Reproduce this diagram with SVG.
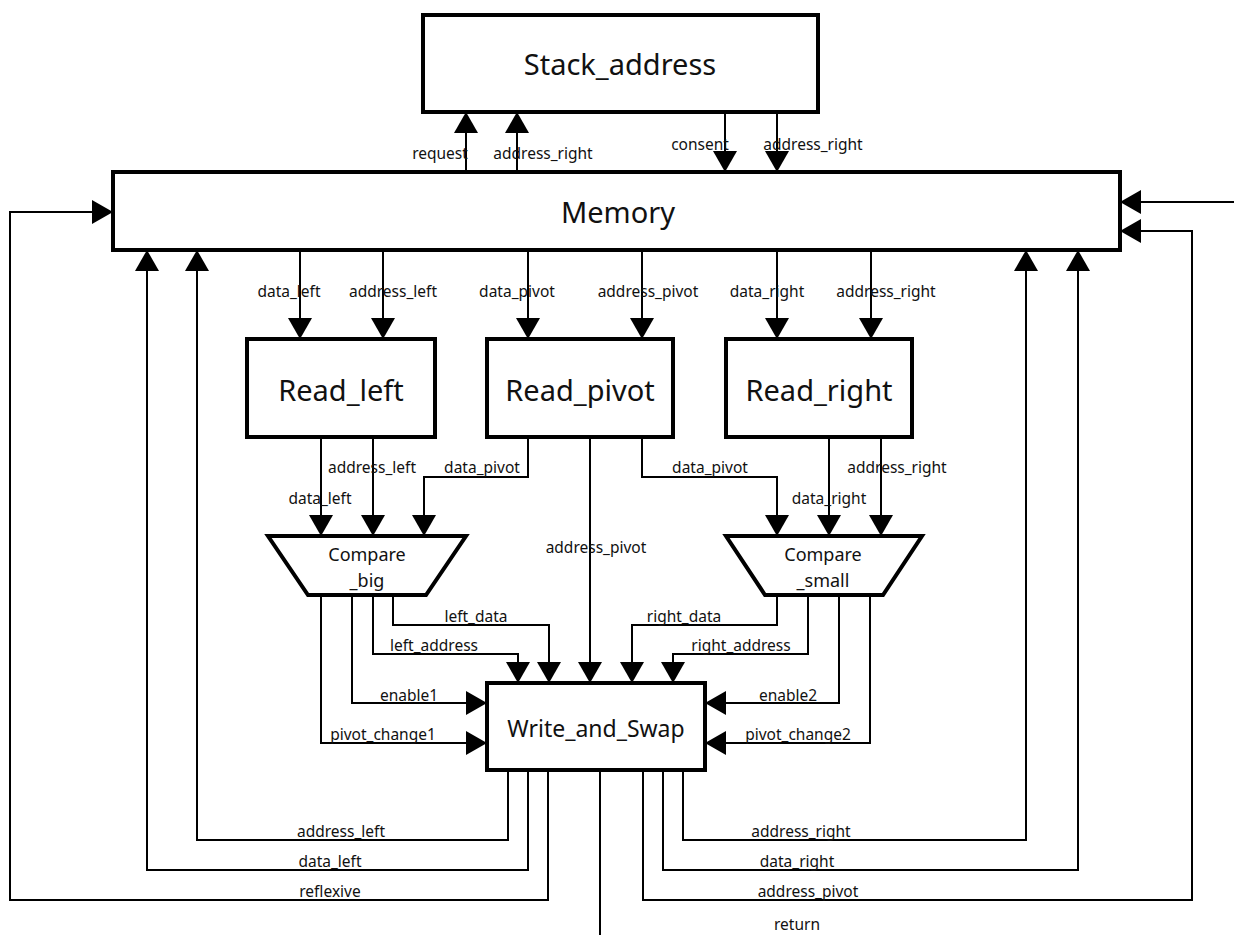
<svg xmlns="http://www.w3.org/2000/svg" width="1234" height="935" viewBox="0 0 1234 935">
  <style>
    .box { fill: #ffffff; stroke: #000000; stroke-width: 4; stroke-linejoin: miter; }
    .title { font-family: "Noto Sans", "Open Sans", sans-serif; fill: #111111; text-anchor: middle; }
    .wire { fill: none; stroke: #000000; stroke-width: 2; }
    .arr { marker-end: url(#head); }
    .lbl { font-family: "Noto Sans", "Open Sans", sans-serif; font-size: 15.5px; fill: #111111; text-anchor: middle; }
  </style>
  <defs>
    <marker id="head" markerUnits="userSpaceOnUse" markerWidth="22" markerHeight="24" refX="21" refY="12" orient="auto">
      <path d="M0,0 L21,12 L0,24 Z" fill="#000000"/>
    </marker>
  </defs>
  <rect width="1234" height="935" fill="#ffffff"/>

  <!-- connectors -->
  <g id="connectors">
    <!-- Memory <-> Stack_address -->
    <path class="wire arr" d="M466,172 V112"/>
    <path class="wire arr" d="M517,172 V112"/>
    <path class="wire arr" d="M725,112 V172"/>
    <path class="wire arr" d="M777,112 V172"/>
    <!-- Memory -> readers -->
    <path class="wire arr" d="M300,250 V339"/>
    <path class="wire arr" d="M383,250 V339"/>
    <path class="wire arr" d="M528,250 V339"/>
    <path class="wire arr" d="M642,250 V339"/>
    <path class="wire arr" d="M777,250 V339"/>
    <path class="wire arr" d="M871,250 V339"/>
    <!-- readers -> comparators -->
    <path class="wire arr" d="M321,437 V536"/>
    <path class="wire arr" d="M373,437 V536"/>
    <path class="wire arr" d="M528,437 V477 H424 V536"/>
    <path class="wire arr" d="M590,437 V683"/>
    <path class="wire arr" d="M642,437 V477 H777 V536"/>
    <path class="wire arr" d="M829,437 V536"/>
    <path class="wire arr" d="M881,437 V536"/>
    <!-- Compare_big -> Write_and_Swap -->
    <path class="wire arr" d="M321,595 V743 H487"/>
    <path class="wire arr" d="M352,595 V703 H487"/>
    <path class="wire arr" d="M373,595 V654 H518 V683"/>
    <path class="wire arr" d="M393,595 V625 H549 V683"/>
    <!-- Compare_small -> Write_and_Swap -->
    <path class="wire arr" d="M777,595 V625 H632 V683"/>
    <path class="wire arr" d="M808,595 V654 H673 V683"/>
    <path class="wire arr" d="M839,595 V703 H705"/>
    <path class="wire arr" d="M870,595 V743 H705"/>
    <!-- Write_and_Swap -> Memory feedback -->
    <path class="wire arr" d="M508,770 V840 H197 V250"/>
    <path class="wire arr" d="M528,770 V870 H147 V250"/>
    <path class="wire arr" d="M548,770 V900 H10 V212 H113"/>
    <path class="wire" d="M600,770 V935"/>
    <path class="wire arr" d="M643,770 V900 H1192 V231 H1120"/>
    <path class="wire arr" d="M663,770 V870 H1078 V250"/>
    <path class="wire arr" d="M683,770 V840 H1026 V250"/>
    <path class="wire arr" d="M1234,202 H1120"/>

    <!-- connector labels -->
    <text class="lbl" x="440" y="159">request</text>
    <text class="lbl" x="543" y="159">address_right</text>
    <text class="lbl" x="700" y="150">consent</text>
    <text class="lbl" x="813" y="150">address_right</text>
    <text class="lbl" x="289" y="297">data_left</text>
    <text class="lbl" x="393" y="297">address_left</text>
    <text class="lbl" x="517" y="297">data_pivot</text>
    <text class="lbl" x="648" y="297">address_pivot</text>
    <text class="lbl" x="767" y="297">data_right</text>
    <text class="lbl" x="886" y="297">address_right</text>
    <text class="lbl" x="372" y="473">address_left</text>
    <text class="lbl" x="482" y="473">data_pivot</text>
    <text class="lbl" x="320" y="504">data_left</text>
    <text class="lbl" x="710" y="473">data_pivot</text>
    <text class="lbl" x="897" y="473">address_right</text>
    <text class="lbl" x="829" y="504">data_right</text>
    <text class="lbl" x="596" y="553">address_pivot</text>
    <text class="lbl" x="476" y="622">left_data</text>
    <text class="lbl" x="434" y="651">left_address</text>
    <text class="lbl" x="409" y="701">enable1</text>
    <text class="lbl" x="383" y="740">pivot_change1</text>
    <text class="lbl" x="684" y="622">right_data</text>
    <text class="lbl" x="741" y="651">right_address</text>
    <text class="lbl" x="788" y="701">enable2</text>
    <text class="lbl" x="798" y="740">pivot_change2</text>
    <text class="lbl" x="341" y="837">address_left</text>
    <text class="lbl" x="330" y="867">data_left</text>
    <text class="lbl" x="330" y="897">reflexive</text>
    <text class="lbl" x="801" y="837">address_right</text>
    <text class="lbl" x="797" y="867">data_right</text>
    <text class="lbl" x="808" y="897">address_pivot</text>
    <text class="lbl" x="797" y="930">return</text>
  </g>

  <!-- blocks -->
  <g id="stack_address">
    <rect class="box" x="423" y="15" width="395" height="97"/>
    <text class="title" x="620" y="75" font-size="29">Stack_address</text>
  </g>
  <g id="memory">
    <rect class="box" x="113" y="172" width="1007" height="78"/>
    <text class="title" x="618" y="223" font-size="29">Memory</text>
  </g>
  <g id="read_left">
    <rect class="box" x="247" y="339" width="188" height="98"/>
    <text class="title" x="341" y="401" font-size="29">Read_left</text>
  </g>
  <g id="read_pivot">
    <rect class="box" x="487" y="339" width="186" height="98"/>
    <text class="title" x="580" y="401" font-size="29">Read_pivot</text>
  </g>
  <g id="read_right">
    <rect class="box" x="726" y="339" width="186" height="98"/>
    <text class="title" x="819" y="401" font-size="29">Read_right</text>
  </g>
  <g id="compare_big">
    <polygon class="box" points="268,536 466,536 426,595 308,595"/>
    <text class="title" x="367" y="561" font-size="18">Compare</text>
    <text class="title" x="367" y="587" font-size="18">_big</text>
  </g>
  <g id="compare_small">
    <polygon class="box" points="726,536 922,536 883,595 765,595"/>
    <text class="title" x="823" y="561" font-size="18">Compare</text>
    <text class="title" x="823" y="587" font-size="18">_small</text>
  </g>
  <g id="write_and_swap">
    <rect class="box" x="487" y="683" width="218" height="87"/>
    <text class="title" x="596" y="737" font-size="23">Write_and_Swap</text>
  </g>
</svg>
